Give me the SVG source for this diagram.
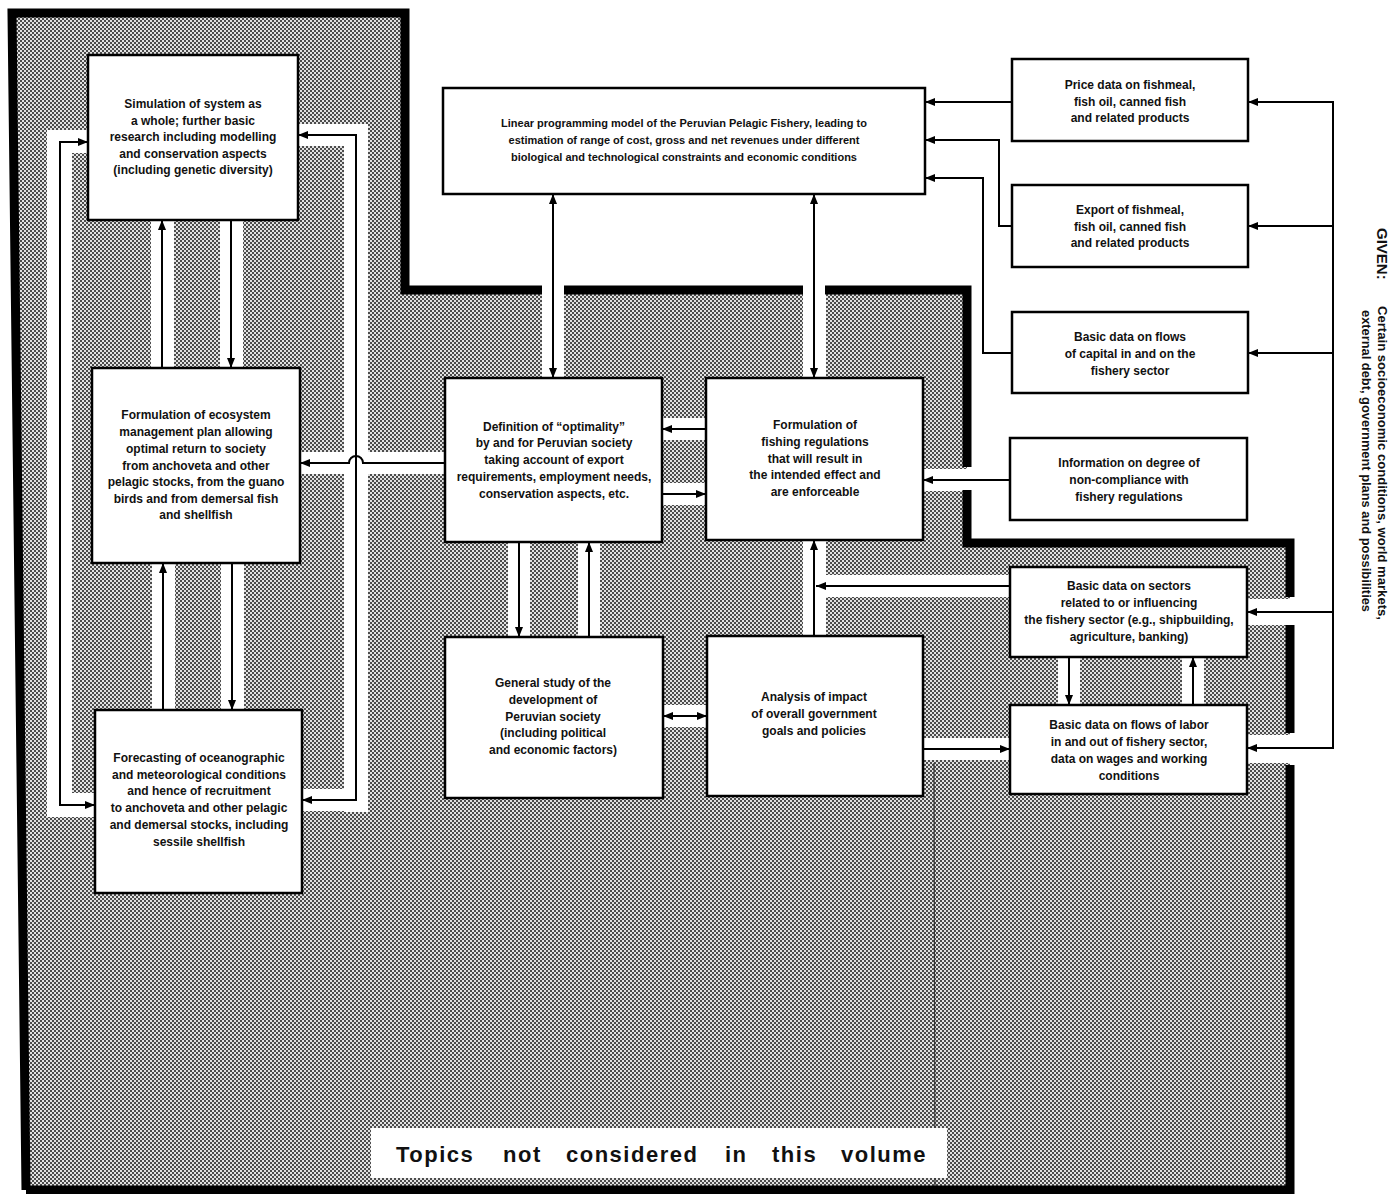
<svg xmlns="http://www.w3.org/2000/svg" width="1392" height="1194" viewBox="0 0 1392 1194">
<defs>
<style>
.box{fill:#fff;stroke:#000;stroke-width:2.5}
.t{font-family:"Liberation Sans",Arial,sans-serif;font-size:12px;font-weight:bold;fill:#111;text-anchor:middle}
.t11{font-size:11px}
.c{fill:none;stroke:#000;stroke-width:2}
.ch{fill:#fff}
.border{fill:none;stroke:#000;stroke-width:9}
</style>
<pattern id="ht" width="4" height="4" patternUnits="userSpaceOnUse">
<rect width="4" height="4" fill="#e2e2e2"/>
<rect width="2" height="2" fill="#4c4c4c"/>
<rect x="2" y="2" width="2" height="2" fill="#4c4c4c"/>
</pattern>
<marker id="ah" viewBox="0 0 10 8" refX="10" refY="4" markerWidth="10" markerHeight="8" markerUnits="userSpaceOnUse" orient="auto-start-reverse">
<path d="M0,0 L10,4 L0,8 z" fill="#000"/>
</marker>
</defs>
<rect width="1392" height="1194" fill="#fff"/>

<g id="shaded-area">
<polygon points="12,13 405,13 405,290 967,290 967,543 1290,543 1290,1190 26,1190" fill="url(#ht)"/>
<rect class="ch" x="47" y="130" width="25" height="687"/>
<rect class="ch" x="47" y="130" width="41" height="23"/>
<rect class="ch" x="47" y="793" width="48" height="24"/>
<rect class="ch" x="344" y="124" width="24" height="688"/>
<rect class="ch" x="298" y="124" width="70" height="22"/>
<rect class="ch" x="302" y="789" width="66" height="22"/>
<rect class="ch" x="151" y="218" width="23" height="152"/>
<rect class="ch" x="220" y="218" width="23" height="152"/>
<rect class="ch" x="152" y="561" width="23" height="151"/>
<rect class="ch" x="221" y="561" width="23" height="151"/>
<rect class="ch" x="300" y="452" width="145" height="22"/>
<rect class="ch" x="542" y="280" width="22" height="98"/>
<rect class="ch" x="803" y="280" width="23" height="98"/>
<rect class="ch" x="662" y="418" width="44" height="22"/>
<rect class="ch" x="662" y="483" width="44" height="22"/>
<rect class="ch" x="508" y="542" width="22" height="95"/>
<rect class="ch" x="578" y="542" width="22" height="95"/>
<rect class="ch" x="663" y="705" width="44" height="22"/>
<rect class="ch" x="803" y="540" width="23" height="96"/>
<rect class="ch" x="803" y="575" width="207" height="22"/>
<rect class="ch" x="923" y="469" width="50" height="22"/>
<rect class="ch" x="923" y="738" width="87" height="22"/>
<rect class="ch" x="1058" y="657" width="22" height="48"/>
<rect class="ch" x="1182" y="657" width="22" height="48"/>
<rect class="ch" x="1247" y="599" width="48" height="26"/>
<rect class="ch" x="1247" y="735" width="48" height="28"/>
<path class="border" d="M26,1190 L12,13 L405,13 L405,290 L542,290 M564,290 L803,290 M825,290 L967,290 L967,467 M967,490 L967,543 L1290,543 L1290,597 M1290,625 L1290,733 M1290,765 L1290,1190 L26,1190"/>
<line x1="934" y1="763" x2="935" y2="1186" stroke="#333" stroke-width="1.2"/>
</g>

<g id="connectors">
<path class="c" d="M88,142 L60,142 L60,805 L95,805" marker-start="url(#ah)" marker-end="url(#ah)"/>
<path class="c" d="M298,135 L356,135 L356,800 L302,800" marker-start="url(#ah)" marker-end="url(#ah)"/>
<path class="c" d="M162,368 L162,220" marker-end="url(#ah)"/>
<path class="c" d="M231,220 L231,368" marker-end="url(#ah)"/>
<path class="c" d="M163,710 L163,563" marker-end="url(#ah)"/>
<path class="c" d="M232,563 L232,710" marker-end="url(#ah)"/>
<path class="c" d="M445,463 L363,463 A7,7 0 0 0 349,463 L300,463" marker-end="url(#ah)"/>
<path class="c" d="M553,194 L553,378" marker-start="url(#ah)" marker-end="url(#ah)"/>
<path class="c" d="M814,194 L814,378" marker-start="url(#ah)" marker-end="url(#ah)"/>
<path class="c" d="M1012,102 L925,102" marker-end="url(#ah)"/>
<path class="c" d="M1012,226 L999,226 L999,140 L925,140" marker-end="url(#ah)"/>
<path class="c" d="M1012,353 L983,353 L983,178 L925,178" marker-end="url(#ah)"/>
<path class="c" d="M706,429 L662,429" marker-end="url(#ah)"/>
<path class="c" d="M662,494 L706,494" marker-end="url(#ah)"/>
<path class="c" d="M1010,480 L923,480" marker-end="url(#ah)"/>
<path class="c" d="M519,542 L519,637" marker-end="url(#ah)"/>
<path class="c" d="M589,637 L589,542" marker-end="url(#ah)"/>
<path class="c" d="M663,716 L707,716" marker-start="url(#ah)" marker-end="url(#ah)"/>
<path class="c" d="M814,636 L814,540" marker-end="url(#ah)"/>
<path class="c" d="M1010,586 L816,586" marker-end="url(#ah)"/>
<path class="c" d="M923,749 L1010,749" marker-end="url(#ah)"/>
<path class="c" d="M1069,657 L1069,705" marker-end="url(#ah)"/>
<path class="c" d="M1193,705 L1193,657" marker-end="url(#ah)"/>
<path class="c" d="M1333,101 L1333,749"/>
<path class="c" d="M1333,102 L1248,102" marker-end="url(#ah)"/>
<path class="c" d="M1333,226 L1248,226" marker-end="url(#ah)"/>
<path class="c" d="M1333,353 L1248,353" marker-end="url(#ah)"/>
<path class="c" d="M1333,612 L1247,612" marker-end="url(#ah)"/>
<path class="c" d="M1333,748 L1247,748" marker-end="url(#ah)"/>
</g>

<g id="n-sim">
<rect class="box" x="88" y="55" width="210" height="165"/>
<text class="t"><tspan x="193" y="108">Simulation of system as</tspan><tspan x="193" y="124.5">a whole; further basic</tspan><tspan x="193" y="141">research including modelling</tspan><tspan x="193" y="157.5">and conservation aspects</tspan><tspan x="193" y="174">(including genetic diversity)</tspan></text>
</g>
<g id="n-eco">
<rect class="box" x="92" y="368" width="208" height="195"/>
<text class="t"><tspan x="196" y="419">Formulation of ecosystem</tspan><tspan x="196" y="436">management plan allowing</tspan><tspan x="196" y="453">optimal return to society</tspan><tspan x="196" y="470">from anchoveta and other</tspan><tspan x="196" y="486">pelagic stocks, from the guano</tspan><tspan x="196" y="503">birds and from demersal fish</tspan><tspan x="196" y="519">and shellfish</tspan></text>
</g>
<g id="n-fore">
<rect class="box" x="95" y="710" width="207" height="183"/>
<text class="t"><tspan x="199" y="762">Forecasting of oceanographic</tspan><tspan x="199" y="779">and meteorological conditions</tspan><tspan x="199" y="795">and hence of recruitment</tspan><tspan x="199" y="812">to anchoveta and other pelagic</tspan><tspan x="199" y="829">and demersal stocks, including</tspan><tspan x="199" y="846">sessile shellfish</tspan></text>
</g>
<g id="n-lp">
<rect class="box" x="443" y="88" width="482" height="106"/>
<text class="t t11"><tspan x="684" y="127">Linear programming model of the Peruvian Pelagic Fishery, leading to</tspan><tspan x="684" y="144">estimation of range of cost, gross and net revenues under different</tspan><tspan x="684" y="161">biological and technological constraints and economic conditions</tspan></text>
</g>
<g id="n-price">
<rect class="box" x="1012" y="59" width="236" height="82"/>
<text class="t"><tspan x="1130" y="89">Price data on fishmeal,</tspan><tspan x="1130" y="106">fish oil, canned fish</tspan><tspan x="1130" y="122">and related products</tspan></text>
</g>
<g id="n-export">
<rect class="box" x="1012" y="185" width="236" height="82"/>
<text class="t"><tspan x="1130" y="214">Export of fishmeal,</tspan><tspan x="1130" y="231">fish oil, canned fish</tspan><tspan x="1130" y="247">and related products</tspan></text>
</g>
<g id="n-capital">
<rect class="box" x="1012" y="312" width="236" height="81"/>
<text class="t"><tspan x="1130" y="341">Basic data on flows</tspan><tspan x="1130" y="358">of capital in and on the</tspan><tspan x="1130" y="375">fishery sector</tspan></text>
</g>
<g id="n-info">
<rect class="box" x="1010" y="438" width="237" height="82"/>
<text class="t"><tspan x="1129" y="467">Information on degree of</tspan><tspan x="1129" y="484">non-compliance with</tspan><tspan x="1129" y="501">fishery regulations</tspan></text>
</g>
<g id="n-sectors">
<rect class="box" x="1010" y="567" width="237" height="90"/>
<text class="t"><tspan x="1129" y="590">Basic data on sectors</tspan><tspan x="1129" y="607">related to or influencing</tspan><tspan x="1129" y="624">the fishery sector (e.g., shipbuilding,</tspan><tspan x="1129" y="641">agriculture, banking)</tspan></text>
</g>
<g id="n-labor">
<rect class="box" x="1010" y="705" width="237" height="89"/>
<text class="t"><tspan x="1129" y="729">Basic data on flows of labor</tspan><tspan x="1129" y="746">in and out of fishery sector,</tspan><tspan x="1129" y="763">data on wages and working</tspan><tspan x="1129" y="780">conditions</tspan></text>
</g>
<g id="n-def">
<rect class="box" x="445" y="378" width="217" height="164"/>
<text class="t"><tspan x="554" y="431">Definition of “optimality”</tspan><tspan x="554" y="447">by and for Peruvian society</tspan><tspan x="554" y="464">taking account of export</tspan><tspan x="554" y="481">requirements, employment needs,</tspan><tspan x="554" y="498">conservation aspects, etc.</tspan></text>
</g>
<g id="n-fr">
<rect class="box" x="706" y="378" width="217" height="162"/>
<text class="t"><tspan x="815" y="429">Formulation of</tspan><tspan x="815" y="446">fishing regulations</tspan><tspan x="815" y="463">that will result in</tspan><tspan x="815" y="479">the intended effect and</tspan><tspan x="815" y="496">are enforceable</tspan></text>
</g>
<g id="n-gen">
<rect class="box" x="445" y="637" width="218" height="161"/>
<text class="t"><tspan x="553" y="687">General study of the</tspan><tspan x="553" y="704">development of</tspan><tspan x="553" y="721">Peruvian society</tspan><tspan x="553" y="737">(including political</tspan><tspan x="553" y="754">and economic factors)</tspan></text>
</g>
<g id="n-ana">
<rect class="box" x="707" y="636" width="216" height="160"/>
<text class="t"><tspan x="814" y="701">Analysis of impact</tspan><tspan x="814" y="718">of overall government</tspan><tspan x="814" y="735">goals and policies</tspan></text>
</g>

<g id="given">
<text transform="translate(1377,228) rotate(90)" style="font-family:'Liberation Sans',Arial,sans-serif;font-size:15px;font-weight:bold" fill="#111">GIVEN:</text>
<text transform="translate(1378,463) rotate(90)" text-anchor="middle" textLength="314" lengthAdjust="spacingAndGlyphs" style="font-family:'Liberation Sans',Arial,sans-serif;font-size:13px;font-weight:bold" fill="#111">Certain socioeconomic conditions, world markets,</text>
<text transform="translate(1362,461) rotate(90)" text-anchor="middle" textLength="302" lengthAdjust="spacingAndGlyphs" style="font-family:'Liberation Sans',Arial,sans-serif;font-size:13px;font-weight:bold" fill="#111">external debt, government plans and possibilities</text>
</g>

<g id="topics-label">
<rect x="371" y="1128" width="576" height="50" fill="#fff"/>
<text style="font-family:'Liberation Sans',Arial,sans-serif;font-size:22px;font-weight:bold;letter-spacing:1.5px" fill="#111" y="1162"><tspan x="396">Topics</tspan><tspan x="503">not</tspan><tspan x="566">considered</tspan><tspan x="725">in</tspan><tspan x="772">this</tspan><tspan x="841">volume</tspan></text>
</g>
</svg>
